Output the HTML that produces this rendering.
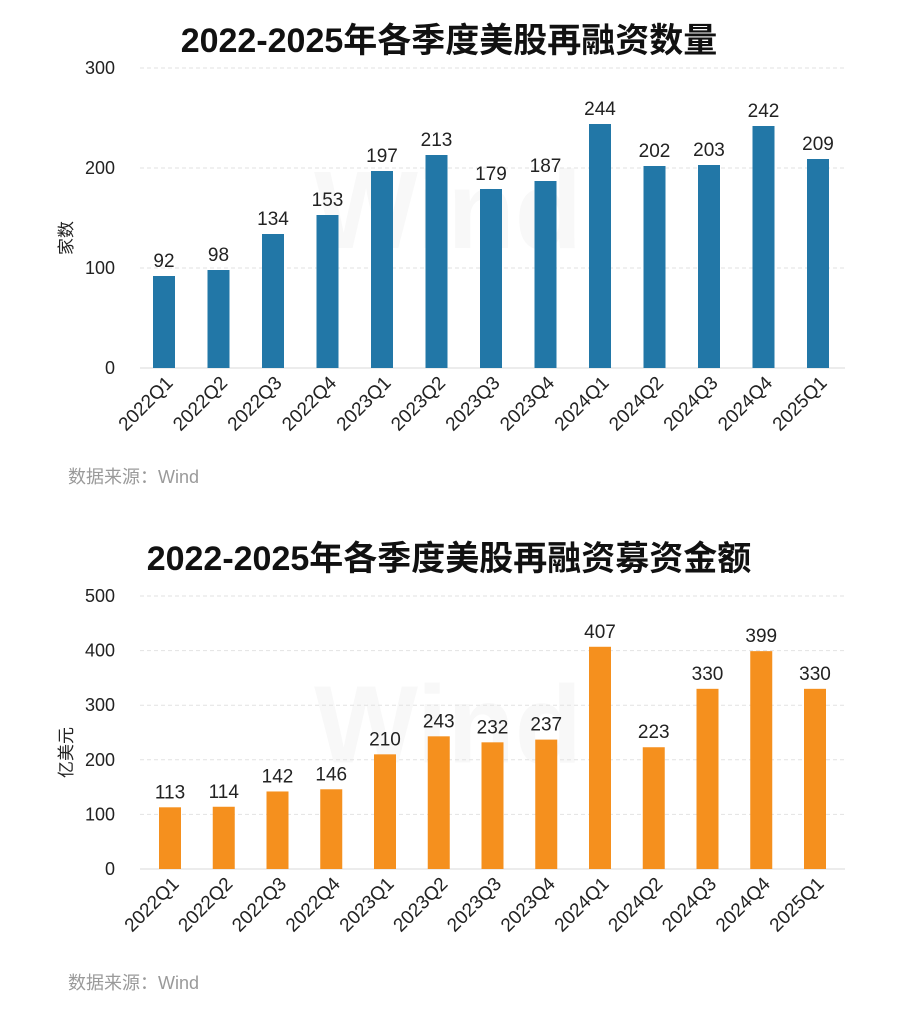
<!DOCTYPE html>
<html><head><meta charset="utf-8"><style>
body{margin:0;background:#fff;width:916px;height:1016px;overflow:hidden}
text{font-family:"Liberation Sans","Noto Sans CJK SC",sans-serif}
</style></head><body>
<svg id="svg" width="916" height="1016" xmlns="http://www.w3.org/2000/svg"></svg>
<script>
const categories=["2022Q1","2022Q2","2022Q3","2022Q4","2023Q1","2023Q2","2023Q3","2023Q4","2024Q1","2024Q2","2024Q3","2024Q4","2025Q1"];
const countValues=[92,98,134,153,197,213,179,187,244,202,203,242,209];
const amountValues=[113,114,142,146,210,243,232,237,407,223,330,399,330];
const countTicks=[0,100,200,300];
const amountTicks=[0,100,200,300,400,500];
const NS="http://www.w3.org/2000/svg";
const svg=document.getElementById('svg');
function mk(tag,attrs,txt){const e=document.createElementNS(NS,tag);for(const k in attrs)e.setAttribute(k,attrs[k]);if(txt!==undefined)e.textContent=txt;svg.appendChild(e);return e;}
function chart(o){
  const y=v=>o.y0-(v/o.max)*(o.y0-o.yTop);
  const x=i=>o.x0+i*o.step;
  let t=mk('text',{x:449,y:o.titleY,'text-anchor':'middle','font-size':34,'font-weight':'bold',fill:'#111'},o.title);
  
  
  t=mk('text',{x:448,y:(o.y0+o.yTop)/2+30,'text-anchor':'middle','font-size':110,'font-weight':'bold',fill:'#f8f8f8'},'Wind');
  
  
  o.ticks.forEach(v=>{
    const g=mk('line',{x1:140,x2:845,y1:y(v),y2:y(v),stroke:v===0?'#d8d8d8':'#e2e2e2','stroke-width':1,'stroke-dasharray':v===0?'':'4,3'});
    
    
    const l=mk('text',{x:115,y:y(v)+6,'text-anchor':'end','font-size':18,fill:'#222'},v);
    
    
  });
  const yl=mk('text',{x:0,y:0,'text-anchor':'middle','font-size':17,fill:'#222',transform:`translate(72,${(o.y0+o.yTop)/2+20}) rotate(-90)`},o.yTitle);
  
  
  o.values.forEach((v,i)=>{
    const cx=x(i);
    const b=mk('rect',{x:cx-11,y:y(v),width:22,height:o.y0-y(v),fill:o.color});
    
    
    const lab=mk('text',{x:cx,y:y(v)-9,'text-anchor':'middle','font-size':19,fill:'#222'},v);
    
    
    const c=mk('text',{x:0,y:0,'text-anchor':'end','font-size':19,fill:'#222',transform:`translate(${cx+10},${o.y0+16}) rotate(-45)`},categories[i]);
    
    
  });
  const s=mk('text',{x:68,y:o.srcY,'font-size':18,fill:'#9a9a9a'},'数据来源：Wind');
  
  
}
chart({pfx:'count',title:'2022-2025年各季度美股再融资数量',titleY:52,values:countValues,ticks:countTicks,max:300,y0:368,yTop:68,x0:164,step:54.5,color:'#2277a7',yTitle:'家数',srcY:483});
chart({pfx:'amount',title:'2022-2025年各季度美股再融资募资金额',titleY:570,values:amountValues,ticks:amountTicks,max:500,y0:869,yTop:596,x0:170,step:53.75,color:'#f5901e',yTitle:'亿美元',srcY:989});
</script>
</body></html>
